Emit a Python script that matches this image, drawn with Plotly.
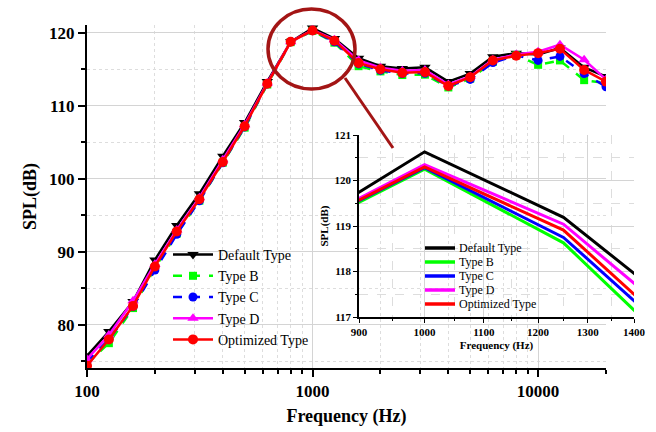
import plotly.graph_objects as go
import math

freq = [100, 125, 160, 200, 250, 315, 400, 500, 630, 800, 1000, 1250, 1600,
        2000, 2500, 3150, 4000, 5000, 6300, 8000, 10000, 12500, 16000, 20000]

default_type = [75.75, 79.1, 83.2, 88.9, 93.6, 97.95, 103.1, 107.7, 113.3, 118.75, 120.63, 119.19, 116.51,
                115.4, 115.1, 115.25, 113.3, 114.4, 116.7, 117.2, 117.0, 117.9, 115.25, 114.0]
type_b = [74.7, 77.5, 82.3, 87.8, 92.5, 97.0, 102.2, 107.0, 112.9, 118.7, 120.25, 118.63, 115.41,
          114.7, 114.2, 114.25, 112.5, 113.7, 116.0, 116.9, 115.6, 116.2, 113.5, 113.1]
type_c = [75.0, 78.0, 82.5, 87.5, 92.4, 97.0, 102.2, 107.1, 113.0, 118.75, 120.28, 118.75, 115.72,
          114.85, 114.4, 114.45, 112.7, 113.6, 115.9, 116.9, 116.2, 116.75, 114.4, 112.6]
type_d = [75.3, 78.6, 83.3, 88.3, 93.0, 97.4, 102.6, 107.4, 113.1, 118.77, 120.35, 119.04, 116.21,
          115.2, 114.8, 114.9, 112.9, 114.0, 116.3, 117.0, 117.4, 118.35, 116.3, 113.6]
optimized = [74.4, 78.0, 82.6, 88.0, 92.8, 97.2, 102.3, 107.2, 113.0, 118.75, 120.30, 118.91, 115.84,
             115.0, 114.5, 114.6, 112.7, 113.9, 116.2, 116.85, 117.2, 117.8, 114.9, 113.3]

series_names = ["Default Type", "Type B", "Type C", "Type D", "Optimized Type"]
series_values = [default_type, type_b, type_c, type_d, optimized]
colors = ["#000000", "#00ff00", "#0000ff", "#ff00ff", "#ff0000"]
symbols = ["triangle-down", "square", "circle", "triangle-up", "circle"]
dashes = ["solid", "dash", "dash", "solid", "solid"]
sizes = [10, 8, 9, 10, 10]

main_xticks = [100, 1000, 10000]
main_xminor = [200, 300, 400, 500, 600, 700, 800, 900,
               2000, 3000, 4000, 5000, 6000, 7000, 8000, 9000, 20000]
inset_xticks = [900, 1000, 1100, 1200, 1300, 1400]
inset_xminor = [950, 1050, 1150, 1250, 1350]

SERIF = "Liberation Serif"

fig = go.Figure()

for name, vals, c, s, d, sz in zip(series_names, series_values, colors, symbols, dashes, sizes):
    fig.add_trace(go.Scatter(
        x=freq, y=vals, name=name, mode="lines+markers",
        line=dict(color=c, width=2.5, dash=d),
        marker=dict(symbol=s, size=sz, color=c),
        legend="legend", xaxis="x", yaxis="y"))

for name, vals, c in zip(series_names, series_values, colors):
    fig.add_trace(go.Scatter(
        x=freq, y=vals, name=name, mode="lines",
        line=dict(color=c, width=3), showlegend=False,
        xaxis="x2", yaxis="y2"))

W, H = 656, 432
ml, mr, mt, mb = 87, 22, 25, 64
pw = W - ml - mr
ph = H - mt - mb

def px(xp):
    return (xp - ml) / pw

def py(yp):
    return (H - mb - yp) / ph

# inset legend (key drawn as short line samples + labels)
inset_key_shapes = []
inset_key_labels = []
for i, (name, c) in enumerate(zip(series_names, colors)):
    yy = 248 + 14 * i
    inset_key_shapes.append(dict(type="line", xref="paper", yref="paper",
                                 x0=px(425), x1=px(455), y0=py(yy), y1=py(yy),
                                 line=dict(color=c, width=3.5)))
    inset_key_labels.append(dict(text=name, xref="paper", yref="paper",
                                 x=px(457), y=py(yy), xanchor="left", yanchor="middle",
                                 showarrow=False,
                                 font=dict(family=SERIF, size=12, color="black")))

fig.update_layout(
    width=W, height=H,
    margin=dict(l=ml, r=mr, t=mt, b=mb),
    paper_bgcolor="white",
    plot_bgcolor="rgba(0,0,0,0)",
    font=dict(family=SERIF, color="black"),
    xaxis=dict(
        type="log", range=[2, math.log10(20000)], domain=[0, px(606)],
        tickvals=main_xticks, ticktext=[str(v) for v in main_xticks],
        tickfont=dict(family=SERIF, size=17, color="black", weight="bold"),
        ticks="outside", ticklen=7, tickwidth=1.5, tickcolor="black",
        showline=True, linecolor="black", linewidth=2,
        showgrid=True, gridcolor="#d4d4d4", gridwidth=1,
        minor=dict(tickvals=main_xminor, ticks="outside", ticklen=4, tickwidth=1.5,
                   tickcolor="black", showgrid=True, gridcolor="#dddddd", griddash="dot"),
        title=dict(text="Frequency (Hz)", font=dict(family=SERIF, size=18, weight="bold"), standoff=9),
        zeroline=False, anchor="y", automargin=False),
    yaxis=dict(
        range=[74.1, 121.05], tick0=80, dtick=10, domain=[0, 1],
        tickfont=dict(family=SERIF, size=17, color="black", weight="bold"),
        ticks="outside", ticklen=7, tickwidth=1.5, tickcolor="black",
        showline=True, linecolor="black", linewidth=2,
        showgrid=True, gridcolor="#d4d4d4", gridwidth=1,
        minor=dict(dtick=5, tick0=75, ticks="outside", ticklen=4, tickwidth=1.5,
                   tickcolor="black", showgrid=True, gridcolor="#dddddd", griddash="dot"),
        title=dict(text="SPL(dB)", font=dict(family=SERIF, size=18, weight="bold"), standoff=8),
        zeroline=False, anchor="x", automargin=False),
    xaxis2=dict(
        type="log", range=[math.log10(900), math.log10(1400)], domain=[px(359), 1.0],
        tickvals=inset_xticks, ticktext=[str(v) for v in inset_xticks],
        tickfont=dict(family=SERIF, size=11, color="black", weight="bold"),
        ticks="outside", ticklen=4, tickwidth=1, tickcolor="black",
        showline=True, linecolor="black", linewidth=1.5,
        showgrid=True, gridcolor="#d4d4d4", gridwidth=1,
        minor=dict(tickvals=inset_xminor, ticks="outside", ticklen=2, tickwidth=1,
                   tickcolor="black", showgrid=True, gridcolor="#dddddd", griddash="dash"),
        title=dict(text="Frequency (Hz)", font=dict(family=SERIF, size=11, weight="bold"), standoff=4),
        zeroline=False, anchor="y2", automargin=False),
    yaxis2=dict(
        range=[117, 121], dtick=1, domain=[py(317), py(135)],
        tickfont=dict(family=SERIF, size=11, color="black", weight="bold"),
        ticks="outside", ticklen=4, tickwidth=1, tickcolor="black",
        showline=True, linecolor="black", linewidth=1.5,
        showgrid=True, gridcolor="#d4d4d4", gridwidth=1,
        minor=dict(dtick=0.5, ticks="outside", ticklen=2, tickwidth=1,
                   tickcolor="black", showgrid=True, gridcolor="#dddddd", griddash="dash"),
        title=dict(text="SPL(dB)", font=dict(family=SERIF, size=11, weight="bold"), standoff=4),
        zeroline=False, anchor="x2", automargin=False),
    legend=dict(
        x=px(168), y=py(239), xanchor="left", yanchor="top",
        bgcolor="rgba(0,0,0,0)", font=dict(family=SERIF, size=14, color="black"),
        itemwidth=40, tracegroupgap=0),
    shapes=[
        dict(type="circle", xref="paper", yref="paper",
             x0=px(268), x1=px(355), y0=py(89), y1=py(9),
             line=dict(color="#a31515", width=3.5)),
        dict(type="line", xref="paper", yref="paper",
             x0=px(345), y0=py(78), x1=px(393), y1=py(148),
             line=dict(color="#a31515", width=3)),
    ] + inset_key_shapes,
    annotations=inset_key_labels,
)

fig.write_html("out.html", config={"displayModeBar": False},
               post_script="document.body.style.margin='0';document.body.style.overflow='hidden';")
